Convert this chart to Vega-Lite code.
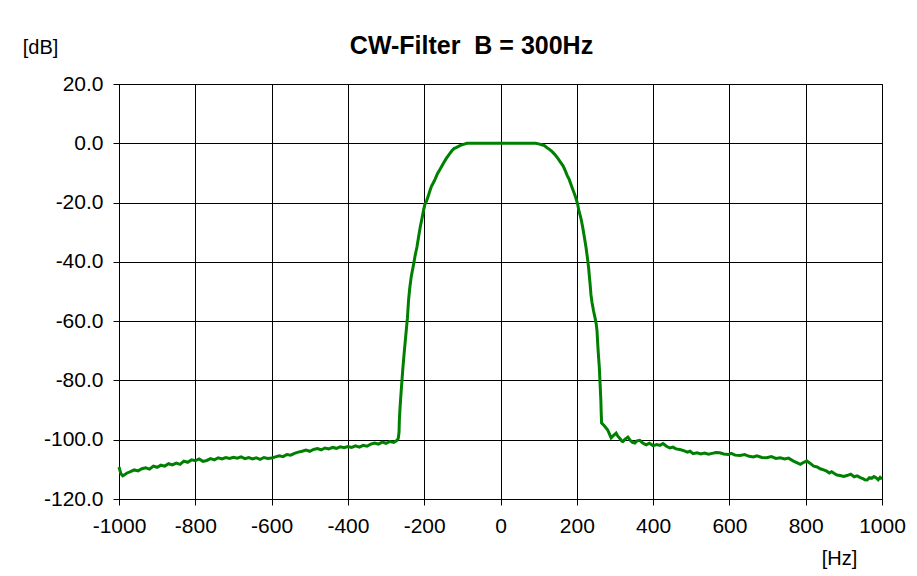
{
  "$schema": "https://vega.github.io/schema/vega-lite/v6.json",
  "autosize": "none",
  "width": 763,
  "height": 415,
  "padding": {"left": 119, "top": 84, "right": 35, "bottom": 77},
  "background": "white",
  "config": {
    "font": "Liberation Sans",
    "view": {"stroke": "black", "strokeWidth": 1}
  },
  "title": {
    "text": "CW-Filter \u00a0B = 300Hz",
    "font": "Liberation Sans",
    "fontSize": 25,
    "fontWeight": "bold",
    "color": "black",
    "anchor": "middle",
    "dx": -29,
    "offset": -22
  },
  "data": {
    "values": [
      {"f": -1000, "db": -109.2}, {"f": -995, "db": -111.5}, {"f": -990, "db": -112.2}, {"f": -980, "db": -111.3},
      {"f": -970, "db": -110.8}, {"f": -960, "db": -110.2}, {"f": -950, "db": -110.5}, {"f": -940, "db": -109.8},
      {"f": -930, "db": -109.5}, {"f": -920, "db": -109.9}, {"f": -910, "db": -108.9}, {"f": -900, "db": -109.3},
      {"f": -890, "db": -108.6}, {"f": -880, "db": -108.9}, {"f": -870, "db": -108.1}, {"f": -860, "db": -108.5},
      {"f": -850, "db": -107.9}, {"f": -840, "db": -108.3}, {"f": -830, "db": -107.2}, {"f": -820, "db": -107.6},
      {"f": -810, "db": -106.8}, {"f": -800, "db": -107.1}, {"f": -790, "db": -106.5}, {"f": -780, "db": -107.3},
      {"f": -770, "db": -107.0}, {"f": -760, "db": -106.4}, {"f": -750, "db": -106.8}, {"f": -740, "db": -106.1},
      {"f": -730, "db": -106.5}, {"f": -720, "db": -106.0}, {"f": -710, "db": -106.3}, {"f": -700, "db": -105.9},
      {"f": -690, "db": -106.2}, {"f": -680, "db": -105.8}, {"f": -670, "db": -106.4}, {"f": -660, "db": -106.0},
      {"f": -650, "db": -106.5}, {"f": -640, "db": -106.1}, {"f": -630, "db": -106.6}, {"f": -620, "db": -106.0},
      {"f": -610, "db": -106.3}, {"f": -600, "db": -106.2}, {"f": -590, "db": -105.8}, {"f": -580, "db": -105.4},
      {"f": -570, "db": -105.7}, {"f": -560, "db": -105.0}, {"f": -550, "db": -105.2}, {"f": -540, "db": -104.6},
      {"f": -530, "db": -104.2}, {"f": -520, "db": -103.9}, {"f": -510, "db": -103.5}, {"f": -500, "db": -103.9},
      {"f": -490, "db": -103.3}, {"f": -480, "db": -103.0}, {"f": -470, "db": -103.4}, {"f": -460, "db": -102.8},
      {"f": -450, "db": -103.1}, {"f": -440, "db": -102.6}, {"f": -430, "db": -102.9}, {"f": -420, "db": -102.4},
      {"f": -410, "db": -102.7}, {"f": -400, "db": -102.3}, {"f": -390, "db": -102.6}, {"f": -380, "db": -102.1},
      {"f": -370, "db": -102.5}, {"f": -360, "db": -101.9}, {"f": -350, "db": -102.2}, {"f": -340, "db": -101.5},
      {"f": -330, "db": -101.1}, {"f": -320, "db": -101.5}, {"f": -310, "db": -100.8}, {"f": -300, "db": -101.2},
      {"f": -290, "db": -100.6}, {"f": -280, "db": -100.9}, {"f": -272, "db": -100.3}, {"f": -268, "db": -99.6},
      {"f": -266, "db": -97.5}, {"f": -265, "db": -93.0}, {"f": -263, "db": -88.5}, {"f": -260, "db": -83.0},
      {"f": -256, "db": -76.0}, {"f": -252, "db": -70.0}, {"f": -248, "db": -64.5}, {"f": -244, "db": -59.0},
      {"f": -241, "db": -53.0}, {"f": -238, "db": -49.0}, {"f": -234, "db": -45.0}, {"f": -228, "db": -41.0},
      {"f": -224, "db": -38.0}, {"f": -219, "db": -35.0}, {"f": -214, "db": -31.0}, {"f": -210, "db": -28.0},
      {"f": -206, "db": -25.5}, {"f": -202, "db": -22.8}, {"f": -198, "db": -20.5}, {"f": -194, "db": -19.5},
      {"f": -190, "db": -18.0}, {"f": -185, "db": -16.0}, {"f": -181, "db": -14.5}, {"f": -176, "db": -13.3},
      {"f": -171, "db": -12.0}, {"f": -165, "db": -10.2}, {"f": -158, "db": -8.7}, {"f": -150, "db": -6.8},
      {"f": -142, "db": -5.1}, {"f": -135, "db": -3.8}, {"f": -128, "db": -2.6}, {"f": -122, "db": -1.8},
      {"f": -115, "db": -1.4}, {"f": -105, "db": -0.7}, {"f": -95, "db": -0.3}, {"f": -88, "db": 0},
      {"f": 0, "db": 0}, {"f": 92, "db": 0}, {"f": 100, "db": -0.2}, {"f": 108, "db": -0.5},
      {"f": 115, "db": -0.8}, {"f": 122, "db": -1.5}, {"f": 130, "db": -2.2}, {"f": 136, "db": -2.9},
      {"f": 143, "db": -3.9}, {"f": 150, "db": -5.0}, {"f": 158, "db": -6.5}, {"f": 164, "db": -7.6},
      {"f": 170, "db": -9.3}, {"f": 175, "db": -10.9}, {"f": 180, "db": -12.2}, {"f": 185, "db": -14.0},
      {"f": 189, "db": -15.4}, {"f": 193, "db": -16.8}, {"f": 197, "db": -18.2}, {"f": 202, "db": -20.4},
      {"f": 206, "db": -23.0}, {"f": 211, "db": -25.4}, {"f": 215, "db": -28.0}, {"f": 219, "db": -31.0},
      {"f": 224, "db": -35.0}, {"f": 228, "db": -38.8}, {"f": 231, "db": -42.0}, {"f": 233, "db": -45.0},
      {"f": 235, "db": -47.7}, {"f": 237, "db": -51.0}, {"f": 240, "db": -53.8}, {"f": 244, "db": -56.6},
      {"f": 248, "db": -59.0}, {"f": 251, "db": -61.0}, {"f": 253, "db": -63.3}, {"f": 255, "db": -68.0},
      {"f": 257, "db": -72.0}, {"f": 259, "db": -75.5}, {"f": 261, "db": -81.0}, {"f": 263, "db": -86.6},
      {"f": 264, "db": -91.0}, {"f": 265, "db": -94.4}, {"f": 272, "db": -95.3}, {"f": 281, "db": -96.7},
      {"f": 286, "db": -98.2}, {"f": 290, "db": -99.4}, {"f": 296, "db": -98.6}, {"f": 303, "db": -97.8},
      {"f": 308, "db": -98.9}, {"f": 313, "db": -99.6}, {"f": 318, "db": -100.5}, {"f": 321, "db": -100.6},
      {"f": 326, "db": -99.9}, {"f": 334, "db": -99.1}, {"f": 340, "db": -100.2}, {"f": 346, "db": -100.9},
      {"f": 352, "db": -101.1}, {"f": 358, "db": -100.4}, {"f": 365, "db": -100.2}, {"f": 372, "db": -101.0},
      {"f": 378, "db": -101.5}, {"f": 382, "db": -101.7}, {"f": 390, "db": -101.2}, {"f": 400, "db": -102.0},
      {"f": 410, "db": -101.6}, {"f": 418, "db": -101.9}, {"f": 426, "db": -101.3}, {"f": 435, "db": -102.2},
      {"f": 444, "db": -102.8}, {"f": 452, "db": -102.5}, {"f": 460, "db": -103.1}, {"f": 470, "db": -103.3},
      {"f": 480, "db": -103.7}, {"f": 490, "db": -104.2}, {"f": 497, "db": -103.9}, {"f": 505, "db": -104.7},
      {"f": 515, "db": -104.4}, {"f": 525, "db": -104.8}, {"f": 535, "db": -104.5}, {"f": 545, "db": -104.9},
      {"f": 555, "db": -104.6}, {"f": 565, "db": -104.3}, {"f": 575, "db": -104.4}, {"f": 585, "db": -104.8},
      {"f": 597, "db": -105.0}, {"f": 605, "db": -104.6}, {"f": 615, "db": -105.2}, {"f": 628, "db": -105.3},
      {"f": 640, "db": -105.0}, {"f": 652, "db": -105.6}, {"f": 663, "db": -105.8}, {"f": 672, "db": -105.4},
      {"f": 685, "db": -106.0}, {"f": 698, "db": -106.1}, {"f": 710, "db": -105.7}, {"f": 722, "db": -106.3},
      {"f": 733, "db": -106.1}, {"f": 745, "db": -106.5}, {"f": 755, "db": -106.2}, {"f": 768, "db": -107.2},
      {"f": 778, "db": -107.8}, {"f": 786, "db": -108.3}, {"f": 795, "db": -107.6}, {"f": 803, "db": -107.2},
      {"f": 812, "db": -108.0}, {"f": 821, "db": -108.9}, {"f": 830, "db": -109.2}, {"f": 838, "db": -109.8},
      {"f": 847, "db": -110.2}, {"f": 855, "db": -110.6}, {"f": 862, "db": -111.2}, {"f": 868, "db": -110.8},
      {"f": 874, "db": -111.3}, {"f": 882, "db": -111.9}, {"f": 890, "db": -112.1}, {"f": 900, "db": -112.4},
      {"f": 910, "db": -112.0}, {"f": 918, "db": -111.6}, {"f": 927, "db": -112.5}, {"f": 935, "db": -112.2},
      {"f": 943, "db": -112.8}, {"f": 950, "db": -113.1}, {"f": 955, "db": -113.5}, {"f": 961, "db": -113.6},
      {"f": 967, "db": -112.8}, {"f": 973, "db": -113.0}, {"f": 979, "db": -112.4}, {"f": 985, "db": -112.9},
      {"f": 990, "db": -113.5}, {"f": 995, "db": -112.7}, {"f": 1000, "db": -113.3}
    ]
  },
  "mark": {"type": "line", "color": "#008000", "strokeWidth": 3, "interpolate": "linear"},
  "encoding": {
    "x": {
      "field": "f",
      "type": "quantitative",
      "scale": {"domain": [-1000, 1000], "nice": false, "zero": false},
      "axis": {
        "values": [-1000, -800, -600, -400, -200, 0, 200, 400, 600, 800, 1000],
        "format": "d",
        "labelExpr": "replace(datum.label, '\u2212', '-')",
        "title": "[Hz]",
        "titleFont": "Liberation Sans",
        "titleFontSize": 20,
        "titleFontWeight": "normal",
        "titleColor": "black",
        "titleX": 720,
        "titleY": 59,
        "titleBaseline": "middle",
        "titleAnchor": "middle",
        "titleAlign": "center",
        "labelFont": "Liberation Sans",
        "labelFontSize": 21,
        "labelColor": "black",
        "labelPadding": 10,
        "labelFlush": false,
        "labelOverlap": false,
        "domainColor": "black",
        "tickColor": "black",
        "tickSize": 6,
        "grid": true,
        "gridColor": "black",
        "gridOpacity": 1,
        "gridWidth": 1
      }
    },
    "y": {
      "field": "db",
      "type": "quantitative",
      "scale": {"domain": [-120, 20], "nice": false, "zero": false},
      "axis": {
        "values": [-120, -100, -80, -60, -40, -20, 0, 20],
        "format": ".1f",
        "labelExpr": "replace(datum.label, '\u2212', '-')",
        "title": "[dB]",
        "titleFont": "Liberation Sans",
        "titleFontSize": 20,
        "titleFontWeight": "normal",
        "titleColor": "black",
        "titleAngle": 0,
        "titleX": -79,
        "titleY": -37,
        "titleBaseline": "middle",
        "titleAlign": "center",
        "labelFont": "Liberation Sans",
        "labelFontSize": 21,
        "labelColor": "black",
        "labelPadding": 10,
        "labelFlush": false,
        "labelOverlap": false,
        "domainColor": "black",
        "tickColor": "black",
        "tickSize": 6,
        "grid": true,
        "gridColor": "black",
        "gridOpacity": 1,
        "gridWidth": 1
      }
    }
  }
}
